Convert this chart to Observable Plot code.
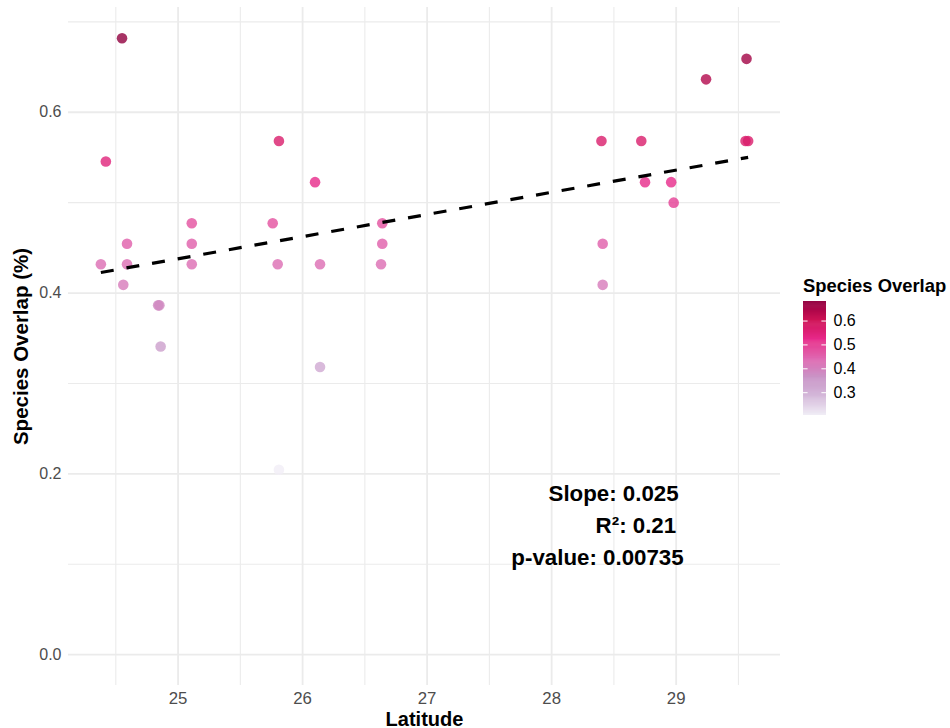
<!DOCTYPE html>
<html><head><meta charset="utf-8">
<script src="https://cdn.jsdelivr.net/npm/d3@7"></script>
<script src="https://cdn.jsdelivr.net/npm/@observablehq/plot@0.6"></script>
<style>
body{margin:0;background:#fff;font-family:"Liberation Sans",Arial,Helvetica,sans-serif;}
#wrap{position:relative;width:950px;height:728px;overflow:hidden;}
#main{position:absolute;left:0;top:0;}
#legtitle{position:absolute;left:803px;top:277px;font-weight:bold;font-size:18.4px;line-height:1;color:#000;white-space:nowrap;}
#legend{position:absolute;left:803px;top:301px;}
#main g[aria-label="x-axis label"] text, #main g[aria-label="y-axis label"] text{font-weight:bold;font-size:20.5px;fill:#000;}
#main g[aria-label="x-axis label"] text{font-size:20px;}
#main g[aria-label="x-axis tick label"] text{font-size:16.8px;}
</style></head><body>
<div id="wrap"><div id="main"></div><div id="legtitle">Species Overlap</div><div id="legend"></div></div>
<script>
// Data
const latitude = [24.55, 24.42, 25.81, 26.10, 25.11, 25.76, 26.64, 24.59, 25.11, 26.64, 24.38, 24.59, 25.11, 25.80, 26.14, 26.63, 24.56, 24.84, 24.85, 24.86, 26.14, 25.81, 29.565, 29.24, 28.40, 28.72, 29.557, 29.578, 28.75, 28.96, 28.98, 28.41, 28.41];
const overlap = [0.6818, 0.5455, 0.5682, 0.5227, 0.4773, 0.4773, 0.4773, 0.4545, 0.4545, 0.4545, 0.4318, 0.4318, 0.4318, 0.4318, 0.4318, 0.4318, 0.4091, 0.3864, 0.3864, 0.3409, 0.3182, 0.2045, 0.6591, 0.6364, 0.5682, 0.5682, 0.5682, 0.5682, 0.5227, 0.5227, 0.5, 0.4545, 0.4091];
const xMajor = [25, 26, 27, 28, 29];
const xMinor = [24.5, 25.5, 26.5, 27.5, 28.5, 29.5];
const yMajor = [0, 0.2, 0.4, 0.6];
const yMinor = [0.1, 0.3, 0.5, 0.7];
const legendTicks = [0.3, 0.4, 0.5, 0.6];
const statLabels = ["Slope: 0.025", "R\u00b2: 0.21", "p-value: 0.00735"];
const statX = [29.02, 29.0, 29.06];
const statY = [0.178, 0.142, 0.107];
const puRd = ["#f1eef6", "#d4b9da", "#c994c7", "#df65b0", "#e7298a", "#ce1256", "#91003f"];

const data = latitude.map((x, i) => ({lat: x, overlap: overlap[i]}));
const stats = statLabels.map((t, i) => ({t, x: statX[i], y: statY[i]}));
function expand([a, b], f = 0.05) { const d = (b - a) * f; return [a - d, b + d]; }
const xDomain = expand(d3.extent(latitude));
const yDomain = expand(d3.extent([0, ...overlap]));
const cDomain = d3.extent(overlap);
const colorScale = {type: "linear", domain: cDomain, interpolate: d3.piecewise(d3.interpolateLab, puRd)};
const font = "Liberation Sans, Arial, Helvetica, sans-serif";

const main = Plot.plot({
  width: 950, height: 728,
  marginLeft: 68, marginRight: 170, marginTop: 7, marginBottom: 43,
  style: {fontFamily: font, fontSize: "16px", color: "#4d4d4d", background: "white"},
  x: {domain: xDomain},
  y: {domain: yDomain},
  color: colorScale,
  marks: [
    Plot.gridX(xMinor, {stroke: "#ebebeb", strokeOpacity: 1, strokeWidth: 1.1}),
    Plot.gridY(yMinor, {stroke: "#ebebeb", strokeOpacity: 1, strokeWidth: 1.1}),
    Plot.gridX(xMajor, {stroke: "#ebebeb", strokeOpacity: 1, strokeWidth: 1.8}),
    Plot.gridY(yMajor, {stroke: "#ebebeb", strokeOpacity: 1, strokeWidth: 1.8}),
    Plot.axisX(xMajor, {tickSize: 0, tickPadding: 7, tickFormat: d3.format("d"), label: "Latitude", labelAnchor: "center", labelOffset: 40, labelArrow: "none"}),
    Plot.axisY(yMajor, {tickSize: 0, tickPadding: 7, tickFormat: d3.format(".1f"), label: "Species Overlap (%)", labelAnchor: "center", labelOffset: 55, labelArrow: "none"}),
    Plot.dot(data, {x: "lat", y: "overlap", fill: "overlap", r: 5.3, fillOpacity: 0.8}),
    Plot.linearRegressionY(data, {x: "lat", y: "overlap", stroke: "black", strokeWidth: 3.2, strokeDasharray: "13,13", strokeLinecap: "butt", ci: 0}),
    Plot.text(stats, {x: "x", y: "y", text: "t", textAnchor: "end", fontWeight: "bold", fontSize: 22.3, fill: "black"})
  ]
});
document.getElementById("main").append(main);

const n = 120;
const step = (cDomain[1] - cDomain[0]) / n;
const legendStops = d3.range(n).map(i => cDomain[0] + step * i);
const legend = Plot.plot({
  width: 75, height: 114,
  marginLeft: 0, marginRight: 52, marginTop: 0, marginBottom: 0,
  style: {fontFamily: font, fontSize: "16px", color: "#000", background: "transparent"},
  x: {domain: [0, 1], axis: null},
  y: {domain: cDomain, axis: null},
  color: colorScale,
  marks: [
    Plot.rect(legendStops, {x1: 0, x2: 1, y1: d => d, y2: d => d + step * 1.6, fill: d => d + step / 2}),
    Plot.ruleY(legendTicks, {x1: 0, x2: 0.2, stroke: "white", strokeWidth: 1}),
    Plot.ruleY(legendTicks, {x1: 0.8, x2: 1, stroke: "white", strokeWidth: 1}),
    Plot.axisY(legendTicks, {anchor: "right", tickSize: 0, tickPadding: 7, tickFormat: d3.format(".1f"), label: null})
  ]
});
document.getElementById("legend").append(legend);
</script>
</body></html>
